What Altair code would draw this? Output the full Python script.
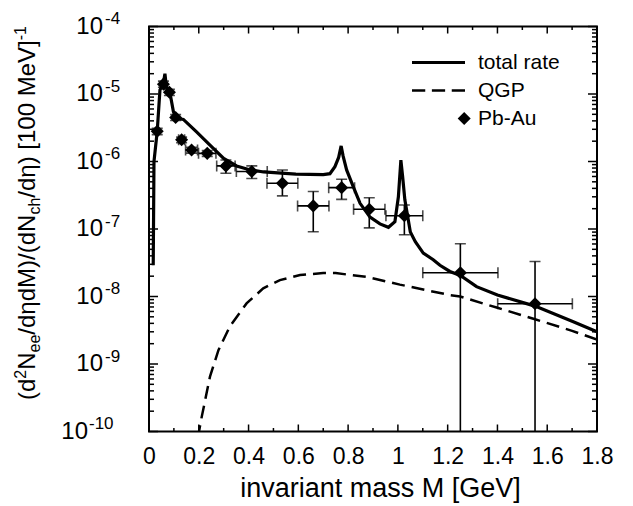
import altair as alt
import pandas as pd

FONT = "Liberation Sans"

# ---------------- data ----------------
# total rate (solid)
total_m = [0.017, 0.020, 0.033, 0.044, 0.058, 0.064, 0.070, 0.085, 0.098, 0.108, 0.138,
           0.190, 0.245, 0.300, 0.352, 0.400, 0.460, 0.590, 0.700, 0.727, 0.747, 0.762,
           0.772, 0.780, 0.794, 0.821, 0.848, 0.888, 0.928, 0.962, 0.988, 1.002, 1.012,
           1.019, 1.028, 1.050, 1.070, 1.102, 1.142, 1.169, 1.209, 1.251, 1.316, 1.400,
           1.551, 1.700, 1.800]
total_v = [2.9e-8, 1.0e-6, 2.8e-6, 1.15e-5, 1.45e-5, 2.0e-5, 1.25e-5, 1.0e-5, 5.5e-6, 4.4e-6, 4.2e-6,
           2.77e-6, 1.75e-6, 1.11e-6, 8.6e-7, 7.6e-7, 7.0e-7, 6.5e-7, 6.4e-7, 6.6e-7, 8.4e-7, 1.15e-6,
           1.7e-6, 1.2e-6, 7.5e-7, 4.2e-7, 2.4e-7, 1.5e-7, 1.19e-7, 1.06e-7, 1.28e-7, 3.0e-7, 1.05e-6,
           6.0e-7, 2.7e-7, 9.0e-8, 6.5e-8, 4.4e-8, 3.5e-8, 2.9e-8, 2.35e-8, 2.05e-8, 1.4e-8, 1.05e-8,
           7.2e-9, 4.3e-9, 3.0e-9]

# QGP (dashed)
qgp_m = [0.196, 0.212, 0.245, 0.279, 0.325, 0.392, 0.459, 0.526, 0.607, 0.700, 0.750,
         0.875, 1.008, 1.209, 1.250, 1.400, 1.551, 1.700, 1.800]
qgp_v = [8e-11, 1.66e-10, 6.5e-10, 1.6e-9, 3.6e-9, 7.9e-9, 1.32e-8, 1.75e-8, 2.08e-8, 2.22e-8, 2.22e-8,
         1.95e-8, 1.5e-8, 1.05e-8, 1.0e-8, 6.8e-9, 4.6e-9, 3.1e-9, 2.3e-9]

# Pb-Au data
pb_m = [0.033, 0.058, 0.082, 0.107, 0.131, 0.171, 0.234, 0.309, 0.413, 0.536, 0.660,
        0.774, 0.885, 1.026, 1.251, 1.551]
pb_v = [2.8e-6, 1.4e-5, 1.06e-5, 4.5e-6, 2.1e-6, 1.48e-6, 1.32e-6, 8.6e-7, 7.1e-7, 4.75e-7, 2.2e-7,
        4.1e-7, 1.96e-7, 1.57e-7, 2.25e-8, 7.8e-9]
pb_xerr = [0, 0, 0, 0, 0.012, 0.024, 0.035, 0.037, 0.062, 0.062, 0.063,
           0.052, 0.063, 0.074, 0.151, 0.150]
pb_ylo = [2.5e-6, 1.26e-5, 9.5e-6, 4.05e-6, 1.9e-6, 1.33e-6, 1.19e-6, 6.7e-7, 5.6e-7, 3.1e-7, 9.1e-8,
          2.75e-7, 1.04e-7, 8.2e-8, 1e-11, 1e-11]
pb_yhi = [3.1e-6, 1.55e-5, 1.17e-5, 4.95e-6, 2.3e-6, 1.63e-6, 1.45e-6, 1.05e-6, 8.6e-7, 7.5e-7, 3.6e-7,
          5.45e-7, 2.9e-7, 2.27e-7, 6.05e-8, 3.3e-8]

series_names = ["total rate", "QGP", "Pb-Au"]

x_major = [0, 0.2, 0.4, 0.6, 0.8, 1.0, 1.2, 1.4, 1.6, 1.8]
x_minor = [0.1, 0.3, 0.5, 0.7, 0.9, 1.1, 1.3, 1.5, 1.7]
y_exps = [-4, -5, -6, -7, -8, -9, -10]
y_major = [10.0 ** e for e in y_exps]
y_minor = [k * 10.0 ** e for e in range(-10, -4) for k in range(2, 10)]

# ---------------- layout ----------------
W, H = 448, 405

xsc = alt.Scale(domain=[0, 1.8], nice=False, zero=False)
ysc = alt.Scale(type="log", domain=[1e-10, 1e-4], nice=False)

xaxis = alt.Axis(values=x_major, format="~g", ticks=False, tickSize=0, domain=False, grid=False,
                 labelFont=FONT, labelFontSize=23, labelColor="black", labelPadding=14,
                 labelFlush=False, labelOverlap=False,
                 title="invariant mass M [GeV]", titleFont=FONT, titleFontSize=27,
                 titleFontWeight="normal", titleColor="black", titleY=65, titleX=231,
                 titleBaseline="alphabetic")


def X(f):
    return alt.X(f, type="quantitative", scale=xsc, axis=xaxis)


def Y(f):
    return alt.Y(f, type="quantitative", scale=ysc, axis=None)


df_total = pd.DataFrame({"M": total_m, "v": total_v})
df_qgp = pd.DataFrame({"M": qgp_m, "v": qgp_v})
df_pb = pd.DataFrame({"M": pb_m, "v": pb_v, "xerr": pb_xerr, "ylo": pb_ylo, "yhi": pb_yhi})
df_pb["xlo"] = df_pb["M"] - df_pb["xerr"]
df_pb["xhi"] = df_pb["M"] + df_pb["xerr"]
df_pbx = df_pb[df_pb["xerr"] > 0]

layers = []

layers.append(alt.Chart(df_qgp).mark_line(color="black", strokeWidth=2.5, strokeDash=[13, 7], clip=True)
              .encode(x=X("M"), y=Y("v")))
layers.append(alt.Chart(df_total).mark_line(color="black", strokeWidth=3.2, clip=True)
              .encode(x=X("M"), y=Y("v")))

# error bars
layers.append(alt.Chart(df_pb).mark_rule(color="black", strokeWidth=1.6, clip=True)
              .encode(x=X("M"), y=Y("ylo"), y2=alt.Y2("yhi")))
layers.append(alt.Chart(df_pbx).mark_rule(color="black", strokeWidth=1.6, clip=True)
              .encode(x=X("xlo"), x2=alt.X2("xhi"), y=Y("v")))
for col in ["ylo", "yhi"]:
    layers.append(alt.Chart(df_pb).mark_tick(color="black", orient="horizontal", size=11,
                                             thickness=1.6, clip=True)
                  .encode(x=X("M"), y=Y(col)))
for col in ["xlo", "xhi"]:
    layers.append(alt.Chart(df_pbx).mark_tick(color="black", orient="vertical", size=11,
                                              thickness=1.6, clip=True)
                  .encode(x=X(col), y=Y("v")))

# data points
layers.append(alt.Chart(df_pb).mark_point(shape="diamond", filled=True, color="black", size=170,
                                          opacity=1, clip=True)
              .encode(x=X("M"), y=Y("v")))

# legend (layer outside the clipped domain, carrying the shape legend; filled symbols)
solid_path = "M-1,-0.06H1V0.06H-1Z"
dash_path = ("M-1,-0.05H-0.5V0.05H-1Z"
             "M-0.25,-0.05H0.25V0.05H-0.25Z"
             "M0.5,-0.05H1V0.05H0.5Z")
diam_path = "M0.725,0L0.97,-0.245L1.215,0L0.97,0.245Z"
df_leg = pd.DataFrame({"series": series_names, "M": [0.9, 0.9, 0.9], "v": [1e-13, 1e-13, 1e-13]})
layers.append(alt.Chart(df_leg).mark_point(filled=True, color="black", strokeWidth=0,
                                           size=2809, opacity=1, clip=True)
              .encode(x=X("M"), y=Y("v"),
                      shape=alt.Shape("series:N",
                                      scale=alt.Scale(domain=series_names,
                                                      range=[solid_path, dash_path, diam_path]),
                                      legend=alt.Legend(title=None, orient="none", legendX=263,
                                                        legendY=23, clipHeight=26, rowPadding=2,
                                                        labelOffset=13, labelFont=FONT,
                                                        labelFontSize=21, labelColor="black",
                                                        padding=0, symbolSize=2809,
                                                        symbolStrokeWidth=0,
                                                        symbolFillColor="black",
                                                        symbolOpacity=1))))

# inward ticks on all four sides
df_ymaj = pd.DataFrame({"t": y_major})
df_ymin = pd.DataFrame({"t": y_minor})
df_xmaj = pd.DataFrame({"t": x_major})
df_xmin = pd.DataFrame({"t": x_minor})
for d, ln in [(df_ymaj, 9), (df_ymin, 5)]:
    layers.append(alt.Chart(d).mark_rule(color="black", strokeWidth=1.5)
                  .encode(y=Y("t"), x=alt.value(0), x2=alt.value(ln)))
    layers.append(alt.Chart(d).mark_rule(color="black", strokeWidth=1.5)
                  .encode(y=Y("t"), x=alt.value(W), x2=alt.value(W - ln)))
for d, ln in [(df_xmaj, 7), (df_xmin, 3.5)]:
    layers.append(alt.Chart(d).mark_rule(color="black", strokeWidth=1.5)
                  .encode(x=X("t"), y=alt.value(H), y2=alt.value(H - ln)))
    layers.append(alt.Chart(d).mark_rule(color="black", strokeWidth=1.5)
                  .encode(x=X("t"), y=alt.value(0), y2=alt.value(ln)))

# y tick labels: "10" with superscript exponent
df_ylab = pd.DataFrame({"t": y_major, "e": [str(e) for e in y_exps]})
df_ylab_a = df_ylab[df_ylab["e"] != "-10"]
df_ylab_b = df_ylab[df_ylab["e"] == "-10"]
for d, xb, xe in [(df_ylab_a, -46, -44), (df_ylab_b, -61, -60)]:
    layers.append(alt.Chart(d).mark_text(align="right", baseline="middle", font=FONT, fontSize=24,
                                         color="black")
                  .encode(y=Y("t"), x=alt.value(xb), text=alt.value("10")))
    layers.append(alt.Chart(d).mark_text(align="left", baseline="alphabetic", font=FONT, fontSize=17,
                                         color="black", dy=-2.5)
                  .encode(y=Y("t"), x=alt.value(xe), text="e:N"))

# y axis title built from pieces (rotated), with sub/superscripts
widths = {'(': 0.333, ')': 0.333, 'd': 0.556, '2': 0.556, 'N': 0.722, 'e': 0.556, '/': 0.278,
          'η': 0.556, 'M': 0.833, 'c': 0.5, 'h': 0.556, ' ': 0.278, '[': 0.278, ']': 0.278,
          '1': 0.556, '0': 0.556, 'V': 0.667, '-': 0.333}
MAIN, SMALL = 24, 16
pieces = [("(d", MAIN, 0), ("2", SMALL, -9), ("N", MAIN, 0), ("ee", SMALL, 5),
          ("/dηdM)/(dN", MAIN, 0), ("ch", SMALL, 5), ("/dη) [100 MeV]", MAIN, 0), ("-1", SMALL, -9)]
one = pd.DataFrame({"a": [0]})
cum = 0.0
for txt, fs, off in pieces:
    layers.append(alt.Chart(one).mark_text(angle=270, align="left", baseline="alphabetic", font=FONT,
                                           fontSize=fs, color="black", dx=cum, dy=off)
                  .encode(x=alt.value(-114.5), y=alt.value(373.5), text=alt.value(txt)))
    cum += sum(widths.get(ch, 0.556) for ch in txt) * fs

chart = (alt.layer(*layers)
         .properties(width=W, height=H, autosize=alt.AutoSizeParams(type="none"),
                     padding={"left": 141, "top": 18.5, "right": 20, "bottom": 72},
                     background="white")
         .configure_view(stroke="black", strokeWidth=2))

chart.save("out.html", embed_options={"renderer": "svg", "actions": False})
